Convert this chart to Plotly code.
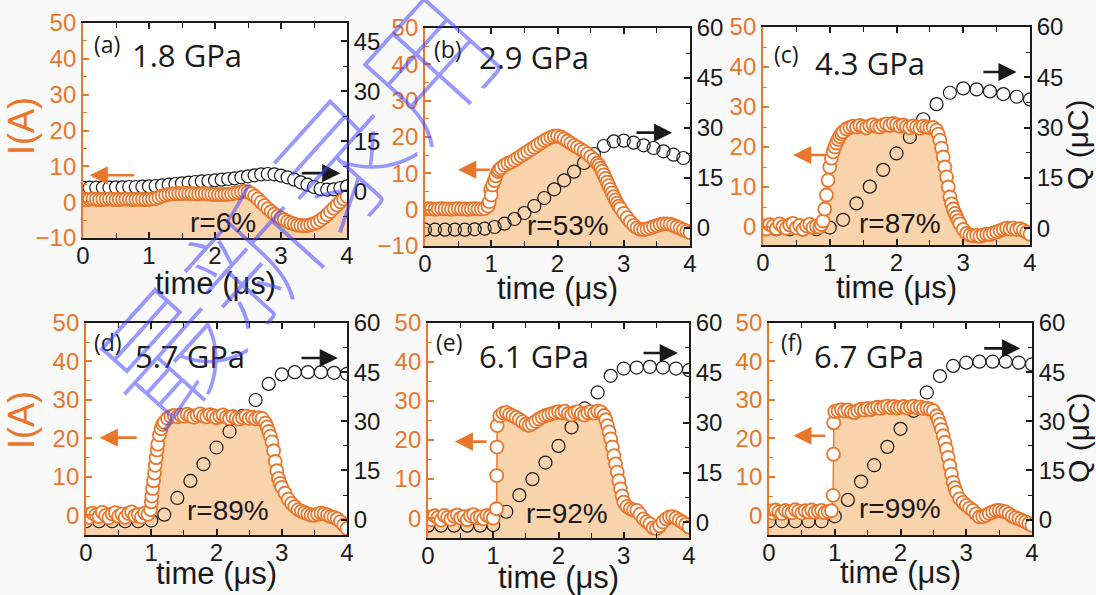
import plotly.graph_objects as go

# ---------------- data ----------------
# current I(t), sampled every 0.05 us from 0 to 4 us
t_I = [round(0.05 * i, 2) for i in range(81)]

I_a = [0.8, 0.7, 0.8, 0.9, 0.8, 0.7, 0.8, 0.8, 0.9, 0.8, 0.7, 0.8, 0.8, 0.9, 0.8, 0.7, 0.8, 0.8, 0.8, 0.7,
       0.8, 0.9, 1.0, 1.3, 1.7, 2.0, 2.2, 2.3, 2.4, 2.4, 2.4, 2.5, 2.4, 2.4, 2.3, 2.3, 2.4, 2.4, 2.3, 2.2,
       2.2, 2.1, 2.1, 2.2, 2.2, 2.3, 2.5, 2.7, 2.9, 3.0, 2.9, 2.4, 1.7, 0.9, 0.0, -0.9, -1.8, -2.6, -3.3, -3.9,
       -4.4, -4.9, -5.4, -5.8, -6.1, -6.4, -6.5, -6.6, -6.5, -6.3, -6.0, -5.6, -5.0, -4.3, -3.5, -2.6, -1.7, -0.8, 0.1, 0.9,
       1.6]
I_b = [0.2, 0.3, 0.2, 0.1, 0.2, 0.3, 0.2, 0.2, 0.1, 0.2, 0.3, 0.2, 0.2, 0.1, 0.2, 0.3, 0.2, 0.2, 0.3, 1.0,
       4.0, 8.0, 10.5, 11.5, 12.2, 12.7, 13.1, 13.6, 14.2, 14.8, 15.4, 16.0, 16.6, 17.2, 17.8, 18.4, 19.0, 19.5, 19.9, 20.2,
       20.3, 20.0, 19.5, 18.9, 18.3, 17.7, 17.2, 16.6, 16.1, 15.4, 14.6, 13.8, 12.8, 11.4, 9.6, 7.6, 5.6, 3.6, 1.8, 0.3,
       -1.0, -2.2, -3.3, -4.3, -5.0, -5.4, -5.5, -5.3, -5.0, -4.7, -4.4, -4.1, -3.9, -3.9, -4.0, -4.3, -4.7, -5.1, -5.5, -5.9,
       -6.3]
I_c = [0.3, -0.5, 0.6, 0.2, -0.4, 0.8, 0.1, -0.3, 0.5, 0.9, -0.2, 0.4, -0.6, 0.3, 0.7, -0.1, 0.2, 0.0, 1.5, 8.0,
       15.0, 18.8, 21.0, 22.6, 23.8, 24.5, 24.9, 25.2, 25.0, 25.4, 25.1, 24.8, 25.3, 25.6, 25.2, 25.0, 25.5, 25.8, 25.4, 25.9,
       25.6, 25.2, 25.5, 25.1, 24.8, 25.3, 25.0, 24.7, 25.2, 25.0, 24.8, 24.9, 24.2, 21.7, 17.5, 12.5, 7.5, 4.5, 2.5, 0.8,
       -0.6, -1.6, -2.0, -2.2, -2.1, -2.3, -2.0, -1.8, -1.9, -1.5, -1.2, -0.9, -0.6, -0.3, -0.5, -0.2, -0.6, -0.4, -0.8, -1.3,
       -1.8]
I_d = [0.2, -0.5, 0.6, 0.1, -0.3, 0.8, 0.0, -0.6, 0.4, 0.7, -0.2, 0.3, -0.5, 0.5, 0.9, -0.1, 0.2, -0.4, 0.6, 0.3,
       3.5, 11.0, 18.5, 22.5, 24.2, 25.2, 25.7, 26.0, 25.6, 26.1, 25.8, 26.3, 25.9, 25.5, 26.0, 26.4, 25.8, 25.6, 26.2, 25.9,
       25.4, 25.8, 26.1, 25.5, 25.2, 25.7, 25.3, 25.0, 25.4, 25.8, 25.2, 25.5, 25.1, 25.4, 25.2, 24.0, 21.8, 19.1, 14.0, 9.6,
       7.3, 5.8, 4.2, 3.1, 2.3, 1.5, 1.1, 0.7, 0.4, 0.1, 0.0, 0.3, 0.6, 0.4, 0.1, -0.3, -0.5, -0.9, -1.6, -2.5,
       -3.4]
I_e = [0.3, -0.4, 0.6, 0.1, -0.5, 0.7, 0.2, -0.3, 0.5, 0.8, 0.0, 0.4, -0.4, 0.6, 0.9, 0.1, 0.3, -0.2, 0.7, 0.4,
       0.0, 2.4, 26.2, 26.9, 27.1, 26.6, 26.2, 25.8, 25.3, 24.7, 24.1, 23.8, 24.2, 24.8, 25.4, 25.9, 26.3, 26.5, 26.8, 27.0,
       27.3, 27.0, 27.4, 26.8, 26.5, 27.1, 27.3, 26.7, 26.4, 27.0, 27.3, 26.9, 27.4, 27.2, 26.3, 23.7, 20.3, 16.0, 11.8, 7.5,
       4.1, 3.0, 2.4, 2.1, 2.0, 1.0, -0.2, -0.9, -1.5, -2.5, -2.7, -2.0, -1.0, -0.2, 0.3, 0.4, 0.0, -0.5, -1.0, -1.6,
       -2.3]
I_f = [1.2, 0.6, 1.4, 0.9, 0.5, 1.3, 1.0, 0.7, 1.5, 1.1, 0.6, 1.2, 0.9, 1.4, 0.8, 1.1, 1.3, 0.7, 1.0, 1.2,
       27.0, 27.2, 27.5, 27.1, 27.4, 26.9, 26.7, 27.2, 27.6, 27.4, 27.8, 27.5, 27.9, 28.1, 27.8, 28.2, 28.4, 28.0, 28.3, 27.9,
       28.1, 28.3, 27.9, 28.2, 28.4, 28.0, 28.2, 27.8, 27.9, 27.6, 27.2, 25.9, 23.7, 20.7, 17.2, 12.9, 8.6, 6.0, 4.3, 3.4,
       2.6, 1.9, 1.3, 0.4, -0.4, -0.3, 0.0, 0.5, 0.9, 1.2, 1.3, 1.1, 0.9, 0.4, -0.2, -0.6, -0.9, -1.3, -1.7, -2.1,
       -2.6]

tE_b = [0.97, 0.99, 1.02, 1.07, 1.12, 2.625, 2.675, 2.725, 2.775, 2.825, 2.875, 2.925]
IE_b = [2.2, 5.5, 6.8, 9.3, 11.0, 12.2, 10.6, 8.6, 6.6, 4.6, 2.7, 1.0]
tE_c = [0.875, 0.925, 0.975, 1.025, 1.075, 1.125, 1.175, 2.625, 2.675, 2.725, 2.775, 2.825, 2.875, 2.925]
IE_c = [0.6, 4.5, 11.7, 17.2, 20.0, 21.9, 23.3, 23.2, 19.7, 15.0, 10.0, 5.8, 3.4, 1.6]
tE_d = [0.99, 1.01, 1.02, 1.035, 1.06, 1.075, 1.09, 1.125, 1.175, 2.775, 2.825, 2.875, 2.925, 2.975]
IE_d = [1.5, 5.0, 7.0, 9.0, 13.0, 15.0, 17.0, 20.9, 23.6, 23.0, 20.6, 16.8, 11.6, 8.3]
tE_e = [1.053, 1.056, 1.06, 2.725, 2.775, 2.825, 2.875, 2.925, 2.975]
IE_e = [10.9, 18.2, 23.7, 25.2, 22.1, 18.2, 13.9, 9.6, 5.7]
tE_f = [0.975, 0.98, 0.985, 2.575, 2.625, 2.675, 2.725, 2.775, 2.825]
IE_f = [5.2, 15.9, 24.1, 24.9, 22.3, 19.0, 15.1, 10.7, 7.2]

# charge Q(t)
tQ_a = [round(0.1 * i, 2) for i in range(41)]
Q_a = [1.1, 1.1, 1.1, 1.1, 1.1, 1.2, 1.2, 1.3, 1.3, 1.4, 1.5, 1.6, 1.8, 2.0, 2.2, 2.4, 2.6, 2.8, 3.0, 3.1,
       3.3, 3.5, 3.7, 3.9, 4.2, 4.5, 4.8, 5.1, 5.2, 5.1, 4.7, 4.2, 3.5, 2.7, 2.0, 1.3, 0.7, 0.5, 0.6, 1.0, 1.5]
tQ_b = [round(0.15 * i, 2) for i in range(27)]
Q_b = [-0.5, -0.5, -0.5, -0.5, -0.5, -0.4, -0.2, 0.3, 1.3, 2.7, 4.5, 6.6, 9.0, 11.6, 14.3, 16.9, 19.5, 22.2,
       24.6, 26.0, 26.2, 25.6, 24.8, 24.0, 23.0, 22.0, 21.0]
tQ = [round(0.2 * i, 2) for i in range(21)]
Q_c = [-0.3, -0.3, -0.3, -0.3, -0.3, 0.2, 2.5, 7.4, 12.4, 17.4, 22.3, 27.2, 32.5, 37.0, 40.4, 41.7, 41.4, 40.8, 40.0, 39.2, 38.4]
Q_d = [-0.5, -0.5, -0.5, -0.5, -0.5, -0.3, 1.5, 6.6, 11.8, 16.9, 22.0, 26.9, 31.7, 36.5, 41.4, 44.3, 45.0, 45.0, 45.0, 44.8, 44.5]
Q_e = [-1.0, -1.0, -1.0, -1.0, -1.0, -0.8, 3.2, 8.2, 13.0, 18.0, 23.0, 28.6, 34.3, 39.1, 44.1, 46.3, 46.6, 46.8, 46.6, 46.3, 45.8]
Q_f = [-0.5, -0.5, -0.5, -0.5, -0.5, 1.0, 6.0, 11.6, 16.6, 22.2, 27.7, 33.2, 38.8, 43.8, 46.9, 47.9, 48.2, 48.2, 48.2, 47.9, 47.4]

labels = ["(a)", "(b)", "(c)", "(d)", "(e)", "(f)"]
pressures = ["1.8 GPa", "2.9 GPa", "4.3 GPa", "5.7 GPa", "6.1 GPa", "6.7 GPa"]
ratios = ["r=6%", "r=53%", "r=87%", "r=89%", "r=92%", "r=99%"]
x_ticks = [0, 1, 2, 3, 4]
watermark = "最新录用"

# ---------------- style / layout ----------------
W, H = 1096, 595
ORANGE = "#E8772C"
FILL = "#F9D3AC"
BLACK = "#1a1a1a"
TICKFONT = "Liberation Sans, Arial, sans-serif"
TITLEFONT = "Open Sans, Liberation Sans, sans-serif"


def merge(t, y, tj, yj):
    pts = sorted(list(zip(t, y)) + list(zip(tj, yj)))
    return [p[0] for p in pts], [p[1] for p in pts]


tIb, Ib = merge(t_I, I_b, tE_b, IE_b)
tIc, Ic = merge(t_I, I_c, tE_c, IE_c)
tId, Id = merge(t_I, I_d, tE_d, IE_d)
tIe, Ie = merge(t_I, I_e, tE_e, IE_e)
tIf, If = merge(t_I, I_f, tE_f, IE_f)

I_TOP = [-10, 0, 10, 20, 30, 40, 50]
I_BOT = [0, 10, 20, 30, 40, 50]
panels = [
    dict(t=t_I, I=I_a, tq=tQ_a, Q=Q_a, box=(83, 347, 23, 238), Ir=[-10, 50], Qr=[-14, 50.5],
         It=I_TOP, Qt=[0, 15, 30, 45], qfill=True,
         oarrow=(0.1, 0.8, 7.5), barrow=(3.29, 3.9, 8.1),
         lab=(92, 44), gpa=(130, 55), r=(223, 222), ty=283),
    dict(t=tIb, I=Ib, tq=tQ_b, Q=Q_b, box=(425, 690, 28, 246), Ir=[-10, 50], Qr=[-5.4, 60],
         It=I_TOP, Qt=[0, 15, 30, 45, 60], qfill=False,
         oarrow=(0.5, 1.0, 11.0), barrow=(3.17, 3.73, 21.2),
         lab=(432, 49), gpa=(477, 57), r=(568, 225), ty=288),
    dict(t=tIc, I=Ic, tq=tQ, Q=Q_c, box=(763, 1030, 27, 245), Ir=[-4.5, 50], Qr=[-5, 60],
         It=I_BOT, Qt=[0, 15, 30, 45, 60], qfill=False,
         oarrow=(0.45, 0.96, 18.0), barrow=(3.28, 3.8, 38.75),
         lab=(772, 54), gpa=(813, 63), r=(900, 223), ty=287),
    dict(t=tId, I=Id, tq=tQ, Q=Q_d, box=(86, 347, 323, 535), Ir=[-5.1, 50], Qr=[-4.7, 60],
         It=I_BOT, Qt=[0, 15, 30, 45, 60], qfill=False,
         oarrow=(0.21, 0.8, 20.2), barrow=(3.28, 3.86, 40.9),
         lab=(92, 342), gpa=(133, 356), r=(228, 511), ty=573),
    dict(t=tIe, I=Ie, tq=tQ, Q=Q_e, box=(428, 689, 323, 538), Ir=[-5.1, 50], Qr=[-4.7, 60],
         It=I_BOT, Qt=[0, 15, 30, 45, 60], qfill=False,
         oarrow=(0.41, 0.92, 19.6), barrow=(3.28, 3.83, 42.3),
         lab=(434, 342), gpa=(477, 356), r=(567, 513), ty=577),
    dict(t=tIf, I=If, tq=tQ, Q=Q_f, box=(769, 1032, 323, 535), Ir=[-5.1, 50], Qr=[-4.7, 60],
         It=I_BOT, Qt=[0, 15, 30, 45, 60], qfill=False,
         oarrow=(0.37, 0.88, 20.7), barrow=(3.25, 3.82, 43.4),
         lab=(779, 342), gpa=(812, 356), r=(900, 508), ty=572),
]


def ax_id(kind, n):
    return kind if n == 1 else f"{kind}{n}"


def ax_key(kind, n):
    return f"{kind}axis" if n == 1 else f"{kind}axis{n}"


fig = go.Figure()
layout = {}
annotations = []

for p, P in enumerate(panels, start=1):
    x0, x1, yt, yb = P["box"]
    xid = ax_id("x", p)
    nI, nQ, nM = 3 * p - 2, 3 * p - 1, 3 * p
    yI, yQ, yM = ax_id("y", nI), ax_id("y", nQ), ax_id("y", nM)

    # baseline for the area fill (bottom of the I axis)
    fig.add_trace(go.Scatter(x=[0, 4], y=[P["Ir"][0], P["Ir"][0]], mode="lines",
                             line=dict(width=0, color=ORANGE), xaxis=xid, yaxis=yI,
                             showlegend=False, hoverinfo="skip"))
    # shaded area + thin connecting line
    fig.add_trace(go.Scatter(x=P["t"], y=P["I"], mode="lines", fill="tonexty", fillcolor=FILL,
                             line=dict(color=ORANGE, width=1.4), xaxis=xid, yaxis=yI,
                             showlegend=False, hoverinfo="skip"))
    # charge (black open circles, right axis)
    if P["qfill"]:
        qm = dict(symbol="circle", size=13, color="white", line=dict(color=BLACK, width=1.2))
    else:
        qm = dict(symbol="circle-open", size=13, color=BLACK, line=dict(width=1.2))
    fig.add_trace(go.Scatter(x=P["tq"], y=P["Q"], mode="markers", marker=qm,
                             xaxis=xid, yaxis=yQ, showlegend=False))
    # current (orange circles, on top)
    fig.add_trace(go.Scatter(x=P["t"], y=P["I"], mode="markers",
                             marker=dict(symbol="circle", size=13, color="white",
                                         line=dict(color=ORANGE, width=1.8)),
                             xaxis=xid, yaxis=yM, showlegend=False))

    xd = [x0 / W, x1 / W]
    yd = [1 - yb / H, 1 - yt / H]
    layout[ax_key("x", p)] = dict(
        domain=xd, anchor=yI, range=[0, 4], tickvals=x_ticks, ticks="inside", ticklen=6,
        tickwidth=1.5, tickcolor=BLACK, showline=True, linecolor=BLACK, linewidth=1.8,
        mirror="ticks", showgrid=False, zeroline=False, ticklabelstandoff=-5,
        minor=dict(dtick=0.5, tick0=0, ticks="inside", ticklen=5, tickwidth=1.3, tickcolor=BLACK),
        tickfont=dict(family=TICKFONT, size=24, color=BLACK))
    layout[ax_key("y", nI)] = dict(
        domain=yd, anchor=xid, range=P["Ir"], tickvals=P["It"], ticks="inside", ticklen=6,
        tickwidth=1.5, tickcolor=ORANGE, showline=True, linecolor=ORANGE, linewidth=1.8,
        showgrid=False, zeroline=False, side="left",
        minor=dict(dtick=5, tick0=0, ticks="inside", ticklen=4, tickwidth=1.2, tickcolor=ORANGE),
        tickfont=dict(family=TICKFONT, size=24, color=ORANGE))
    layout[ax_key("y", nQ)] = dict(
        overlaying=yI, anchor=xid, side="right", range=P["Qr"], tickvals=P["Qt"], ticks="inside",
        ticklen=6, tickwidth=1.5, tickcolor=BLACK, showline=True, linecolor=BLACK, linewidth=1.8,
        showgrid=False, zeroline=False,
        minor=dict(dtick=7.5, tick0=0, ticks="inside", ticklen=4, tickwidth=1.2, tickcolor=BLACK),
        tickfont=dict(family=TICKFONT, size=24, color=BLACK))
    layout[ax_key("y", nM)] = dict(overlaying=yI, anchor=xid, range=P["Ir"], visible=False)

    # arrows
    ha, ta, ya = P["oarrow"]
    annotations.append(dict(x=ha, y=ya, ax=ta, ay=ya, xref=xid, yref=yI, axref=xid, ayref=yI,
                            text="", showarrow=True, arrowhead=2, arrowsize=1.4, arrowwidth=2.6,
                            arrowcolor=ORANGE))
    tb, hb, yb2 = P["barrow"]
    annotations.append(dict(x=hb, y=yb2, ax=tb, ay=yb2, xref=xid, yref=yI, axref=xid, ayref=yI,
                            text="", showarrow=True, arrowhead=2, arrowsize=1.4, arrowwidth=2.6,
                            arrowcolor=BLACK))
    # texts
    lx, ly = P["lab"]
    annotations.append(dict(x=lx / W, y=1 - ly / H, xref="paper", yref="paper", xanchor="left",
                            yanchor="middle", text=labels[p - 1], showarrow=False,
                            font=dict(family=TITLEFONT, size=23, color=BLACK)))
    gx, gy = P["gpa"]
    annotations.append(dict(x=gx / W, y=1 - gy / H, xref="paper", yref="paper", xanchor="left",
                            yanchor="middle", text=pressures[p - 1], showarrow=False,
                            font=dict(family=TITLEFONT, size=31, color=BLACK)))
    rx, ry = P["r"]
    annotations.append(dict(x=rx / W, y=1 - ry / H, xref="paper", yref="paper", xanchor="center",
                            yanchor="middle", text=ratios[p - 1], showarrow=False,
                            font=dict(family=TICKFONT, size=28, color=BLACK)))
    # x-axis title
    annotations.append(dict(x=(x0 + x1) / 2 / W, y=1 - P["ty"] / H, xref="paper", yref="paper",
                            xanchor="center", yanchor="middle", text="time (\u03bcs)", showarrow=False,
                            font=dict(family=TICKFONT, size=31, color=BLACK)))

# y-axis titles
for cy in (126, 420):
    annotations.append(dict(x=21 / W, y=1 - cy / H, xref="paper", yref="paper", xanchor="center",
                            yanchor="middle", text="I(A)", textangle=-90, showarrow=False,
                            font=dict(family=TICKFONT, size=36, color=ORANGE)))
for cx, cy in ((1077, 145), (1078, 438)):
    annotations.append(dict(x=cx / W, y=1 - cy / H, xref="paper", yref="paper", xanchor="center",
                            yanchor="middle", text="Q (\u03bcC)", textangle=-90, showarrow=False,
                            font=dict(family=TICKFONT, size=30, color=BLACK)))

# watermark overlay (thin blue strokes)
annotations.append(dict(x=292 / W, y=1 - 205 / H, xref="paper", yref="paper", xanchor="center",
                        yanchor="middle", text=watermark, textangle=-48, showarrow=False,
                        font=dict(family="Noto Sans CJK SC Thin, Noto Sans CJK SC", weight=100,
                                  size=130, color="rgba(70,70,255,0.55)")))

fig.update_layout(width=W, height=H, margin=dict(l=0, r=0, t=0, b=0, autoexpand=False),
                  paper_bgcolor="#f9f9f9", plot_bgcolor="white", showlegend=False,
                  annotations=annotations, **layout)
fig.write_html("out.html")
